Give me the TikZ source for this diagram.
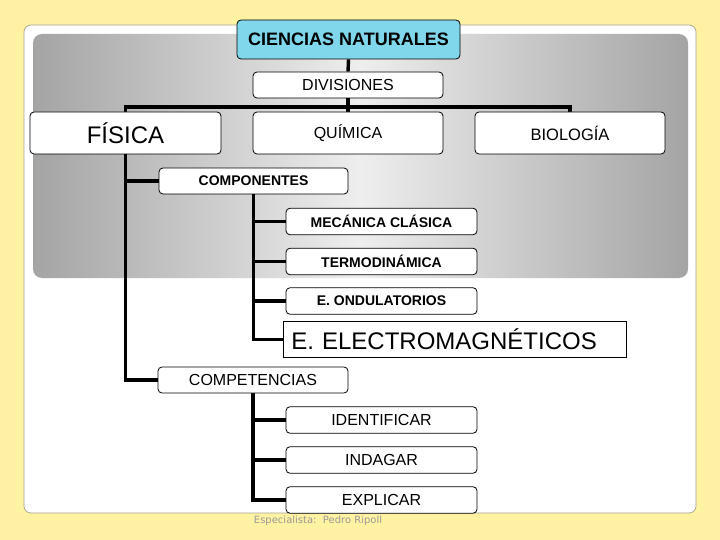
\documentclass[tikz,border=0pt]{standalone}
\usepackage{fontspec}
\setmainfont{Liberation Sans}
\newfontfamily\footfont{DejaVu Sans}
\usetikzlibrary{backgrounds}
\definecolor{bgyellow}{HTML}{FFF2A2}
\definecolor{cyanbox}{HTML}{80D6EA}
\definecolor{panelDark}{HTML}{A4A4A4}
\definecolor{panelLight}{HTML}{EEEEEE}
\definecolor{cardedge}{HTML}{A8A290}
\definecolor{foot}{HTML}{999999}
\tikzset{
  box/.style={draw=black, line width=0.8pt, fill=white, rounded corners=4pt, inner sep=0pt, align=center},
  small/.style={box, minimum width=191pt, minimum height=26.5pt},
  link/.style={line width=3.4pt, line join=miter}
}
\begin{document}
\begin{tikzpicture}[x=1pt,y=-1pt]
\useasboundingbox (0,0) rectangle (720,540);

% nodes
\node[box, fill=cyanbox, minimum width=223pt, minimum height=39pt, font=\fontsize{18}{20}\selectfont\bfseries] (cn) at (348.5,39.5) {CIENCIAS NATURALES};
\node[box, minimum width=190pt, minimum height=26pt, font=\fontsize{16}{18}\selectfont] (div) at (348,85) {DIVISIONES};
\node[box, minimum width=191pt, minimum height=42pt, font=\fontsize{24}{26}\selectfont] (fis) at (125.5,133) {FÍSICA};
\node[box, minimum width=190pt, minimum height=42pt, font=\fontsize{16}{18}\selectfont] (qui) at (348,133) {QUÍMICA};
\node[box, minimum width=190pt, minimum height=42pt, font=\fontsize{16.5}{18}\selectfont] (bio) at (570,133) {BIOLOGÍA};

\node[box, minimum width=189pt, minimum height=26pt, font=\fontsize{14}{16}\selectfont\bfseries] (comp) at (253.5,181) {COMPONENTES};
\node[small, font=\fontsize{14}{16}\selectfont\bfseries] (mec) at (381.5,221.5) {MECÁNICA CLÁSICA};
\node[small, font=\fontsize{14}{16}\selectfont\bfseries] (ter) at (381.5,261.5) {TERMODINÁMICA};
\node[small, font=\fontsize{14}{16}\selectfont\bfseries] (ond) at (381.5,301) {E. ONDULATORIOS};
\node[draw=black, line width=0.8pt, fill=white, inner xsep=8pt, inner ysep=0pt, text width=327pt, align=left, minimum height=36pt, anchor=west, font=\fontsize{24}{26}\selectfont] (ele) at (283,339.5) {E. ELECTROMAGNÉTICOS};

\node[box, minimum width=190pt, minimum height=26pt, font=\fontsize{16}{18}\selectfont] (compt) at (253,380) {COMPETENCIAS};
\node[small, font=\fontsize{16}{18}\selectfont] (ide) at (381.5,420) {IDENTIFICAR};
\node[small, font=\fontsize{16}{18}\selectfont] (ind) at (381.5,460) {INDAGAR};
\node[small, font=\fontsize{16}{18}\selectfont] (exp) at (381.5,500) {EXPLICAR};

\node[font=\footfont\fontsize{10}{12}\selectfont, text=foot, inner sep=0pt] (foot) at (318,521) {Especialista:\ \ Pedro Ripoll};

\begin{pgfonlayer}{background}
\fill[bgyellow] (0,0) rectangle (720,540);
\draw[cardedge, fill=white, line width=0.7pt, rounded corners=7pt] (24,25) rectangle (696,513);
\shade[left color=panelDark, right color=panelDark, middle color=panelLight, rounded corners=9pt] (33,34) rectangle (688,278);
\fill[bgyellow] (0,513.5) rectangle (720,540);
% connectors
\draw[link] (cn.south) -- (div.north);
\draw[link] (div.south) -- (qui.north);
\draw[link] (fis.north) -- (fis.north |- 0,107) -- (bio.north |- 0,107) -- (bio.north);
\draw[link] (fis.south) |- (comp.west);
\draw[link] (fis.south) |- (compt.west);
\draw[link] (comp.south) |- (mec.west);
\draw[link] (comp.south) |- (ter.west);
\draw[link] (comp.south) |- (ond.west);
\draw[link] (comp.south) |- (ele.west);
\draw[link] (compt.south) |- (ide.west);
\draw[link] (compt.south) |- (ind.west);
\draw[link] (compt.south) |- (exp.west);
\end{pgfonlayer}
\end{tikzpicture}
\end{document}
